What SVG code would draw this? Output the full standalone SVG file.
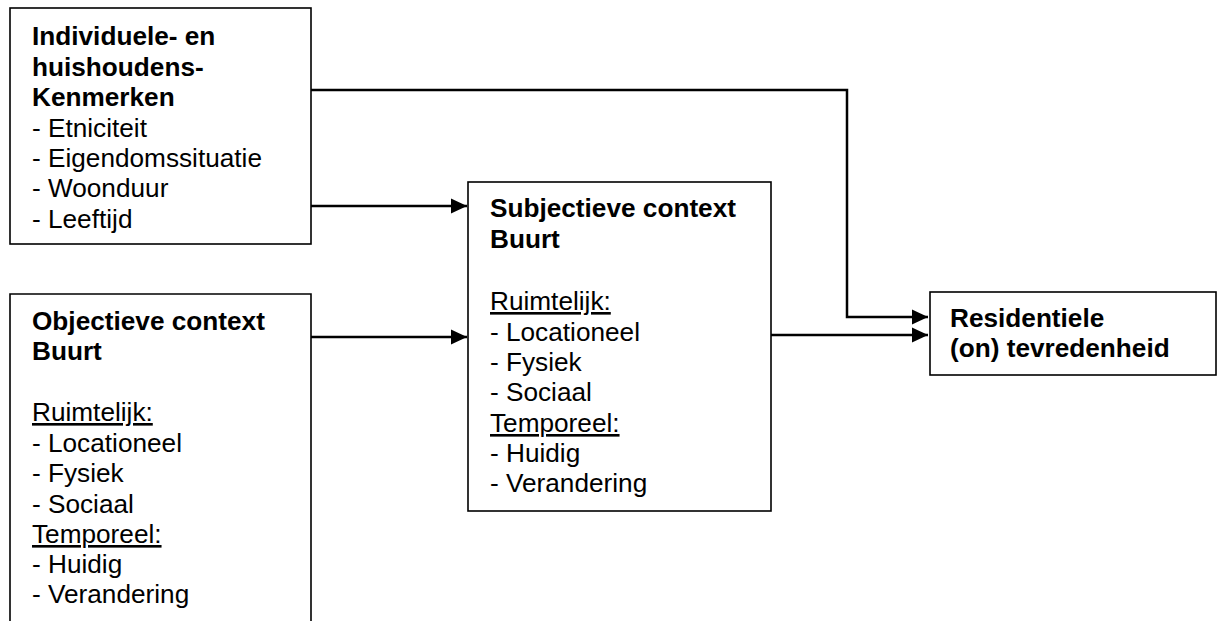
<svg xmlns="http://www.w3.org/2000/svg" width="1226" height="621" viewBox="0 0 1226 621">
<style>
.box{fill:#fff;stroke:#000;stroke-width:1.6}
text{font-family:"Liberation Sans",Arial,sans-serif;font-size:26.2px;fill:#000}
.b{font-weight:bold}
.u{text-decoration:underline}
.con{fill:none;stroke:#000;stroke-width:2.5}
</style>
<defs>
<marker id="ah" markerUnits="userSpaceOnUse" markerWidth="17" markerHeight="17" viewBox="0 0 17 17" refX="16" refY="8.5" orient="auto">
<path d="M0,1 L16,8.5 L0,16 Z" fill="#000"/>
</marker>
</defs>
<rect width="1226" height="621" fill="#fff"/>
<g id="connectors">
<polyline class="con" points="311,90 847,90 847,317 928,317" marker-end="url(#ah)"/>
<line class="con" x1="311" y1="206" x2="467" y2="206" marker-end="url(#ah)"/>
<line class="con" x1="311" y1="337" x2="467" y2="337" marker-end="url(#ah)"/>
<line class="con" x1="771" y1="335" x2="928" y2="335" marker-end="url(#ah)"/>
</g>
<g id="node-individueel">
<rect class="box" x="10" y="8" width="301" height="236"/>
<text class="b" x="32" y="45">Individuele- en</text>
<text class="b" x="32" y="76">huishoudens-</text>
<text class="b" x="32" y="106">Kenmerken</text>
<text x="32" y="137">- Etniciteit</text>
<text x="32" y="167">- Eigendomssituatie</text>
<text x="32" y="197">- Woonduur</text>
<text x="32" y="228">- Leeftijd</text>
</g>
<g id="node-objectief">
<path class="box" d="M10,630 L10,294 L311,294 L311,630"/>
<text class="b" x="32" y="330">Objectieve context</text>
<text class="b" x="32" y="360">Buurt</text>
<text class="u" x="32" y="421">Ruimtelijk:</text>
<text x="32" y="452">- Locationeel</text>
<text x="32" y="482">- Fysiek</text>
<text x="32" y="513">- Sociaal</text>
<text class="u" x="32" y="543">Temporeel:</text>
<text x="32" y="573">- Huidig</text>
<text x="32" y="603">- Verandering</text>
</g>
<g id="node-subjectief">
<rect class="box" x="468" y="182" width="303" height="329"/>
<text class="b" x="490" y="217">Subjectieve context</text>
<text class="b" x="490" y="248">Buurt</text>
<text class="u" x="490" y="310">Ruimtelijk:</text>
<text x="490" y="341">- Locationeel</text>
<text x="490" y="371">- Fysiek</text>
<text x="490" y="401">- Sociaal</text>
<text class="u" x="490" y="432">Temporeel:</text>
<text x="490" y="462">- Huidig</text>
<text x="490" y="492">- Verandering</text>
</g>
<g id="node-residentieel">
<rect class="box" x="930" y="292" width="286" height="83"/>
<text class="b" x="950" y="327">Residentiele</text>
<text class="b" x="950" y="357">(on) tevredenheid</text>
</g>
</svg>
